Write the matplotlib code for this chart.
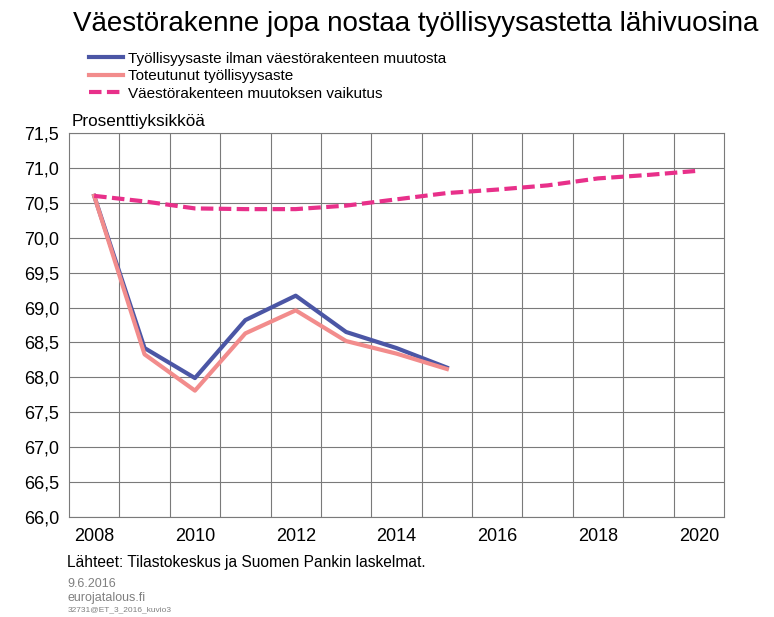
import matplotlib
matplotlib.use("Agg")
import matplotlib.pyplot as plt
from matplotlib.ticker import FixedLocator, FuncFormatter

plt.rcParams['font.family'] = ['Liberation Sans', 'DejaVu Sans']

years = list(range(2008, 2021))
ilman_muutosta = [70.60, 68.42, 67.99, 68.82, 69.17, 68.65, 68.42, 68.14]
toteutunut = [70.60, 68.33, 67.81, 68.63, 68.96, 68.52, 68.34, 68.12]
vaikutus = [70.60, 70.52, 70.42, 70.41, 70.41, 70.46, 70.55, 70.64,
            70.69, 70.75, 70.85, 70.90, 70.96]

labels = ["Työllisyysaste ilman väestörakenteen muutosta",
          "Toteutunut työllisyysaste",
          "Väestörakenteen muutoksen vaikutus"]

fig = plt.figure(figsize=(7.74, 6.17), dpi=100)
ax = fig.add_axes([0.0891, 0.1621, 0.8463, 0.6223])

l1, = ax.plot(years[:len(ilman_muutosta)], ilman_muutosta, color="#4b56a5", lw=3, zorder=3)
l2, = ax.plot(years[:len(toteutunut)], toteutunut, color="#f28c8c", lw=3, zorder=3)
l3, = ax.plot(years, vaikutus, color="#e8308a", lw=3, ls=(0, (3, 1.3)), zorder=3)

ax.set_xlim(2007.5, 2020.5)
ax.set_ylim(66.0, 71.5)
ax.set_xticks(years[::2])
ax.xaxis.set_minor_locator(FixedLocator([y + 0.5 for y in years[:-1]]))
ax.set_yticks([66 + 0.5 * i for i in range(12)])
ax.yaxis.set_major_formatter(FuncFormatter(lambda v, p: f"{v:.1f}".replace(".", ",")))
ax.tick_params(axis="both", which="both", length=0, labelsize=13, colors="black")
ax.tick_params(axis="x", pad=8)
ax.tick_params(axis="y", pad=7)
ax.grid(True, axis="y", which="major", color="#7a7a7a", lw=0.8)
ax.grid(True, axis="x", which="minor", color="#7a7a7a", lw=0.8)
ax.grid(False, axis="x", which="major")
for s in ax.spines.values():
    s.set_color("#7a7a7a")
    s.set_linewidth(0.8)

fig.text(0.094, 0.982, "Väestörakenne jopa nostaa työllisyysastetta lähivuosina",
         fontsize=20, va="top", ha="left")
fig.legend([l1, l2, l3], labels, loc="upper left", bbox_to_anchor=(0.115, 0.916),
           frameon=False, fontsize=11, handlelength=2.2, handletextpad=0.33,
           labelspacing=0.22, borderpad=0, borderaxespad=0)
fig.text(0.093, 0.791, "Prosenttiyksikköä", fontsize=12.3, va="bottom", ha="left")
fig.text(0.087, 0.089, "Lähteet: Tilastokeskus ja Suomen Pankin laskelmat.",
         fontsize=11.2, va="center", ha="left")
fig.text(0.087, 0.054, "9.6.2016", fontsize=9, color="#808080", va="center", ha="left")
fig.text(0.087, 0.031, "eurojatalous.fi", fontsize=9, color="#808080", va="center", ha="left")
fig.text(0.087, 0.012, "32731@ET_3_2016_kuvio3", fontsize=6, color="#808080", va="center", ha="left")

fig.savefig("out.png", dpi=100)
